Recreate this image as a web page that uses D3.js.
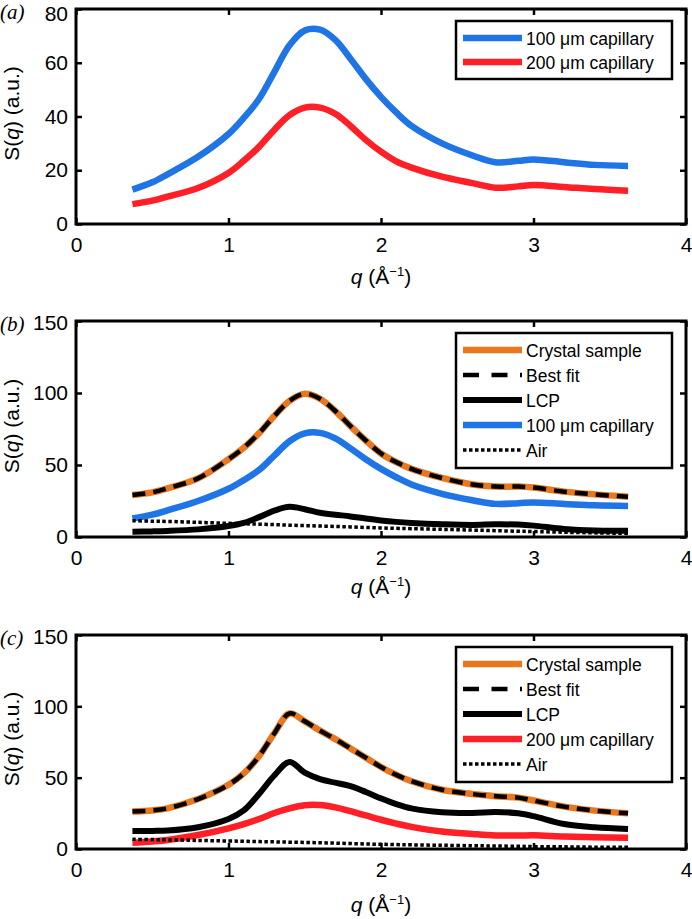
<!DOCTYPE html>
<html>
<head>
<meta charset="utf-8">
<script src="https://cdn.jsdelivr.net/npm/d3@7"></script>
<style>
	body { margin: 0; background: #fff; }
	svg { display: block; font-family: "Liberation Sans", Arial, sans-serif; }
</style>
</head>
<body>
<svg id="svg-port" width="692" height="919"></svg>
<script>
// q grid shared by every curve (Å^-1)
const qValues = [0.37, 0.5, 0.6, 0.8, 1.0, 1.1, 1.2, 1.3, 1.4, 1.5, 1.6, 1.7, 1.8, 1.9, 2.0, 2.1, 2.2, 2.4, 2.6, 2.75, 2.9, 3.0, 3.2, 3.4, 3.62];

// panel (a)
const capillary100 = [12.8, 15.5, 18.5, 25, 33.5, 39.5, 46.5, 56.5, 66.5, 72, 72.3, 68.5, 61.5, 54, 47.3, 41.5, 36.5, 30, 25.5, 23, 23.5, 24, 23, 22, 21.6];
const capillary200 = [7.4, 8.7, 10.2, 13.4, 19, 23.5, 28.7, 35, 40.5, 43.3, 43.3, 41, 36.5, 31.3, 26.9, 23.3, 21, 17.6, 15.2, 13.5, 14, 14.5, 13.8, 13, 12.4];

// panel (b)
const crystalB = [29.2, 31, 33.8, 40.7, 54, 62, 72, 84, 94.5, 99.5, 96, 87.5, 77, 67, 58, 52, 47.3, 41, 36.5, 35, 35, 34.3, 31.5, 29.6, 28];
const bestFitB = [29.2, 31, 33.8, 40.7, 54, 62, 72, 84, 94.5, 99.5, 96, 87.5, 77, 67, 58, 52, 47.3, 41, 36.5, 35, 35, 34.3, 31.5, 29.6, 28];
const lcpB = [3.7, 3.9, 4.2, 5.3, 7.6, 9.8, 13.8, 18.3, 21, 19.3, 16.8, 15.5, 14.3, 12.8, 11.5, 10.5, 9.8, 8.9, 8.4, 8.8, 8.6, 7.9, 5.6, 4.5, 4.4];
const airB = [11.3, 11, 10.8, 10.2, 9.5, 9.2, 8.9, 8.6, 8.2, 7.9, 7.6, 7.3, 7, 6.6, 6.3, 6, 5.8, 5.3, 4.8, 4.4, 4, 3.8, 3.3, 2.9, 2.5];

// panel (c)
const crystalC = [26.2, 27, 28.5, 35, 45, 53, 65, 81, 95, 89.5, 83, 77, 70.5, 64, 57.5, 52, 47.5, 41.5, 38.5, 37, 36, 34, 29.7, 26.9, 25];
const bestFitC = [26.2, 27, 28.5, 35, 45, 53, 65, 81, 95, 89.5, 83, 77, 70.5, 64, 57.5, 52, 47.5, 41.5, 38.5, 37, 36, 34, 29.7, 26.9, 25];
const lcpC = [12.6, 12.7, 12.9, 15.2, 21, 27, 38.5, 51.5, 61, 53.5, 49, 46.5, 44, 40, 35.5, 31.5, 28.5, 25.8, 25.3, 26, 25, 23, 17.5, 15.2, 14];
const capillary200C = [4.4, 5.3, 6.3, 9.8, 14.5, 17.5, 21, 25.2, 28.5, 30.7, 30.8, 29.2, 26.5, 23.5, 20.5, 17.8, 15.5, 12.2, 10.5, 9.5, 9.4, 9.6, 8.8, 8.3, 7.9];
const airC = [6.8, 6.6, 6.4, 6, 5.6, 5.4, 5.2, 5, 4.8, 4.6, 4.4, 4.1, 3.8, 3.5, 3.3, 3.1, 2.9, 2.6, 2.3, 2.1, 1.9, 1.7, 1.5, 1.3, 1.2];

const xTicks = [0, 1, 2, 3, 4];
const yTicksA = [0, 20, 40, 60, 80];
const yTicksBC = [0, 50, 100, 150];

const ORANGE = '#e8771e', BLUE = '#1f74e6', RED = '#ff1f26', BLACK = '#000';

// line looks (not data)
const styles = {
	crystal: {color: ORANGE, width: 6.5},
	fit: {color: BLACK, width: 4.5, dash: '13,8', legendDash: '16,12.5'},
	lcp: {color: BLACK, width: 6},
	cap100: {color: BLUE, width: 6.5},
	cap200: {color: RED, width: 6.5},
	air: {color: BLACK, width: 3.5, dash: '3.5,2.5'}
};

const panels = [
	{
		label: '(a)', top: 9, height: 215, yMax: 80, yTicks: yTicksA, titleOffset: 60, legendRows: 24, topLabelShift: 5,
		series: [
			{name: '100 μm capillary', values: capillary100, style: styles.cap100},
			{name: '200 μm capillary', values: capillary200, style: styles.cap200}
		]
	},
	{
		label: '(b)', top: 321, height: 216, yMax: 150, yTicks: yTicksBC, titleOffset: 57, legendRows: 25, topLabelShift: 2,
		series: [
			{name: 'Crystal sample', values: crystalB, style: styles.crystal},
			{name: 'Best fit', values: bestFitB, style: styles.fit},
			{name: 'LCP', values: lcpB, style: styles.lcp},
			{name: '100 μm capillary', values: capillary100, style: styles.cap100},
			{name: 'Air', values: airB, style: styles.air}
		]
	},
	{
		label: '(c)', top: 635, height: 214, yMax: 150, yTicks: yTicksBC, titleOffset: 63, legendRows: 25, topLabelShift: 2,
		series: [
			{name: 'Crystal sample', values: crystalC, style: styles.crystal},
			{name: 'Best fit', values: bestFitC, style: styles.fit},
			{name: 'LCP', values: lcpC, style: styles.lcp},
			{name: '200 μm capillary', values: capillary200C, style: styles.cap200},
			{name: 'Air', values: airC, style: styles.air}
		]
	}
];

const left = 76, right = 686;
const svg = d3.select('#svg-port');

function applyStyle(sel, style, dash) {
	sel.attr('fill', 'none')
		.attr('stroke', style.color)
		.attr('stroke-width', style.width)
		.attr('stroke-dasharray', dash || null);
}

function DrawPanel(p) {
	const bottom = p.top + p.height;
	const x = d3.scaleLinear().domain([0, 4]).range([left, right]);
	const y = d3.scaleLinear().domain([0, p.yMax]).range([bottom, p.top]);
	const g = svg.append('g');

	const line = d3.line()
		.x((d, i) => x(qValues[i]))
		.y(d => y(d))
		.curve(d3.curveCatmullRom.alpha(0.5));

	const clip = 'clip' + p.label.replace(/\W/g, '');
	g.append('clipPath').attr('id', clip)
		.append('rect').attr('x', left).attr('y', p.top).attr('width', right - left).attr('height', p.height);

	const curves = g.append('g').attr('clip-path', 'url(#' + clip + ')');
	p.series.forEach(s => {
		curves.append('path')
			.attr('d', line(s.values))
			.call(applyStyle, s.style, s.style.dash);
	});

	// ticks pointing inwards on all four sides
	const tickLen = 6;
	const axisFmt = a => a.tickSizeInner(-tickLen).tickSizeOuter(0).tickPadding(9);
	const xb = g.append('g').attr('transform', 'translate(0,' + bottom + ')')
		.call(axisFmt(d3.axisBottom(x).tickValues(xTicks).tickFormat(d3.format('d'))));
	const xt = g.append('g').attr('transform', 'translate(0,' + p.top + ')')
		.call(axisFmt(d3.axisTop(x).tickValues(xTicks)).tickFormat(''));
	const yl = g.append('g').attr('transform', 'translate(' + left + ',0)')
		.call(axisFmt(d3.axisLeft(y).tickValues(p.yTicks)));
	const yr = g.append('g').attr('transform', 'translate(' + right + ',0)')
		.call(axisFmt(d3.axisRight(y).tickValues(p.yTicks)).tickFormat(''));
	[xb, xt, yl, yr].forEach(a => {
		a.select('.domain').remove();
		a.selectAll('line').attr('stroke', '#000').attr('stroke-width', 2.5);
		a.selectAll('text').attr('font-size', 21).attr('fill', '#000').attr('font-family', '"Liberation Sans", Arial, sans-serif');
	});
	yl.selectAll('text').attr('x', -8)
		.attr('y', d => d === p.yMax ? p.topLabelShift : 0);
	xb.selectAll('text').attr('dy', '0.9em');

	g.append('rect')
		.attr('x', left).attr('y', p.top)
		.attr('width', right - left).attr('height', p.height)
		.attr('fill', 'none').attr('stroke', '#000').attr('stroke-width', 3);

	// axis titles
	const xt2 = g.append('text')
		.attr('x', (left + right) / 2).attr('y', bottom + p.titleOffset)
		.attr('text-anchor', 'middle').attr('font-size', 21);
	xt2.append('tspan').attr('font-style', 'italic').text('q');
	xt2.append('tspan').text(' (Å');
	xt2.append('tspan').attr('font-size', 13).attr('dy', -8).text('−1');
	xt2.append('tspan').attr('dy', 8).text(')');

	const yt = g.append('text')
		.attr('transform', 'translate(19,' + (p.top + p.height / 2 - 3) + ') rotate(-90)')
		.attr('text-anchor', 'middle').attr('font-size', 21);
	yt.append('tspan').text('S(');
	yt.append('tspan').attr('font-style', 'italic').text('q');
	yt.append('tspan').text(') (a.u.)');

	g.append('text')
		.attr('x', 0).attr('y', p.top + 10)
		.attr('font-family', '"Liberation Serif", "Times New Roman", serif')
		.attr('font-style', 'italic').attr('font-size', 21)
		.text(p.label);

	// legend
	const boxX = 456, boxW = 216, boxY = p.top + 12;
	const boxH = p.legendRows * p.series.length + 10;
	const lg = g.append('g');
	lg.append('rect')
		.attr('x', boxX).attr('y', boxY).attr('width', boxW).attr('height', boxH)
		.attr('fill', '#fff').attr('stroke', '#000').attr('stroke-width', 2.5);
	p.series.forEach((s, i) => {
		const ry = boxY + 17 + i * p.legendRows;
		lg.append('line')
			.attr('x1', 463).attr('x2', 522).attr('y1', ry).attr('y2', ry)
			.call(applyStyle, s.style, s.style.legendDash || s.style.dash);
		lg.append('text')
			.attr('x', 526).attr('y', ry + 6.5)
			.attr('font-size', 17.5)
			.text(s.name);
	});
}

panels.forEach(DrawPanel);
</script>
</body>
</html>
